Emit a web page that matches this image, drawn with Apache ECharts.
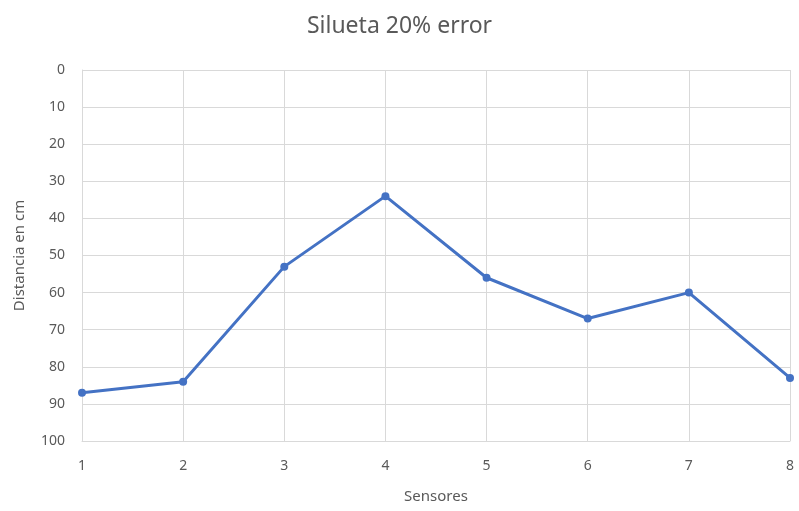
<!DOCTYPE html>
<html>
<head>
<meta charset="utf-8">
<script src="https://cdn.jsdelivr.net/npm/echarts@6/dist/echarts.min.js"></script>
<style>
  html, body { margin: 0; padding: 0; background: #fff; }
  #chart { width: 799px; height: 511px; }
</style>
</head>
<body>
<div id="chart"></div>
<script>
// Sensor readings: distance to silhouette in cm
const sensores = ['1', '2', '3', '4', '5', '6', '7', '8'];
const distancia = [87, 84, 53, 34, 56, 67, 60, 83];
const yMin = 0, yMax = 100, yStep = 10;

const textColor = '#595959';
const gridColor = '#d9d9d9';
const fontFamily = '"Noto Sans", "Open Sans", sans-serif';

const chart = echarts.init(document.getElementById('chart'));
chart.setOption({
  animation: false,
  title: {
    text: 'Silueta 20% error',
    left: 'center',
    top: 10,
    textStyle: { color: textColor, fontSize: 23, fontWeight: 'normal', fontFamily }
  },
  grid: { left: 82, right: 9, top: 70, bottom: 70 },
  xAxis: {
    type: 'category',
    data: sensores,
    boundaryGap: false,
    name: 'Sensores',
    nameLocation: 'middle',
    nameGap: 48,
    nameTextStyle: { color: textColor, fontSize: 15, fontFamily },
    axisLine: { show: true, onZero: false, lineStyle: { color: gridColor } },
    axisTick: { show: false },
    axisLabel: { color: textColor, fontSize: 14, margin: 18, fontFamily },
    splitLine: { show: true, lineStyle: { color: gridColor, width: 1 } }
  },
  yAxis: {
    type: 'value',
    inverse: true,
    min: yMin,
    max: yMax,
    interval: yStep,
    name: 'Distancia en cm',
    nameLocation: 'middle',
    nameGap: 55,
    nameTextStyle: { color: textColor, fontSize: 15, fontFamily },
    axisLine: { show: true, lineStyle: { color: gridColor } },
    axisTick: { show: false },
    axisLabel: { color: textColor, fontSize: 14, margin: 17, fontFamily },
    splitLine: { show: true, lineStyle: { color: gridColor, width: 1 } }
  },
  series: [{
    type: 'line',
    data: distancia,
    symbol: 'circle',
    symbolSize: 8,
    itemStyle: { color: '#4472C4' },
    lineStyle: { color: '#4472C4', width: 3 }
  }]
});
</script>
</body>
</html>
